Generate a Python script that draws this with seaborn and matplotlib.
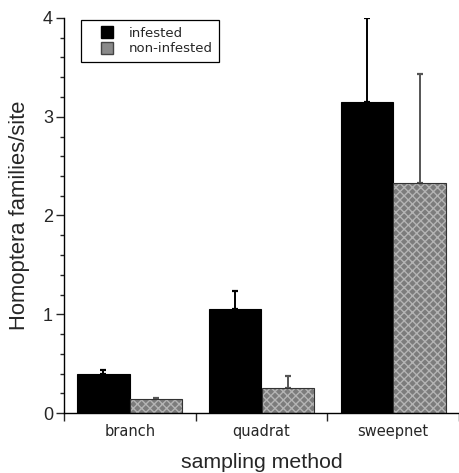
import matplotlib
matplotlib.use("Agg")
import matplotlib.pyplot as plt
import seaborn as sns
import pandas as pd
import numpy as np
from matplotlib.lines import Line2D
from matplotlib.ticker import MultipleLocator

methods = ["branch", "quadrat", "sweepnet"]
groups = ["infested", "non-infested"]
infested = [0.40, 1.05, 3.15]
infested_err = [0.04, 0.19, 0.85]
non_infested = [0.14, 0.25, 2.33]
non_infested_err = [0.01, 0.12, 1.10]

df = pd.DataFrame({
    "method": methods * 2,
    "group": [groups[0]] * 3 + [groups[1]] * 3,
    "value": infested + non_infested,
})

sns.set_style("ticks")
plt.rcParams["font.family"] = ["Liberation Sans", "DejaVu Sans"]
plt.rcParams["hatch.linewidth"] = 1.0

fig = plt.figure(figsize=(4.59, 4.73), dpi=100)
ax = fig.add_axes([64 / 459, 60 / 473, 395 / 459, 395 / 473])

black = "#000000"
grey = "#7c7c7c"
sns.barplot(data=df, x="method", y="value", hue="group", order=methods,
            hue_order=groups, palette=[black, grey], errorbar=None,
            width=0.8, edgecolor="black", linewidth=0.8, saturation=1,
            legend=False, ax=ax)

# style bars and add one-sided error bars
conts = list(ax.containers)
for i, cont in enumerate(conts):
    vals = infested if i == 0 else non_infested
    errs = infested_err if i == 0 else non_infested_err
    xs = []
    for p in cont.patches:
        xs.append(p.get_x() + p.get_width() / 2)
        p.set_zorder(2)
        if i == 1:
            p.set_hatch("xxxx")
            p.set_edgecolor("#333333")
            p._hatch_color = matplotlib.colors.to_rgba("#b4b4b4")
    ecol = "black" if i == 0 else "#555555"
    ax.errorbar(xs, vals, yerr=[np.zeros(len(vals)), errs], fmt="none",
                ecolor=ecol, elinewidth=1.4, capsize=2.5, capthick=1.6,
                zorder=1)

ax.set_xlim(-0.5, 2.5)
ax.set_ylim(0, 4)
ax.yaxis.set_major_locator(MultipleLocator(1))
ax.yaxis.set_minor_locator(MultipleLocator(0.2))
ax.set_xticks([-0.5, 0.5, 1.5, 2.5])
ax.set_xticklabels([])
ax.set_xticks([0, 1, 2], minor=True)
ax.set_xticklabels(methods, minor=True, fontsize=10.5, family="DejaVu Sans")
ax.tick_params(axis="x", which="minor", length=0, pad=8)
ax.tick_params(axis="x", which="major", length=6, width=1, direction="out")
ax.tick_params(axis="y", which="major", length=6, width=1, labelsize=13, pad=2)
ax.tick_params(axis="y", which="minor", length=3, width=1)
for t in ax.get_yticklabels():
    t.set_family("Liberation Sans")

for s in ["top", "right"]:
    ax.spines[s].set_visible(False)
for s in ["left", "bottom"]:
    ax.spines[s].set_linewidth(1.0)
    ax.spines[s].set_color("black")

ax.set_xlabel("sampling method", fontsize=15.3, labelpad=10, family="Liberation Sans")
ax.set_ylabel("Homoptera families/site", fontsize=15.8, labelpad=9, family="Liberation Sans")

handles = [
    Line2D([], [], linestyle="none", marker="s", markersize=8,
           markerfacecolor=black, markeredgecolor="black", label="infested"),
    Line2D([], [], linestyle="none", marker="s", markersize=8,
           markerfacecolor="#8a8a8a", markeredgecolor="#444444", label="non-infested"),
]
leg = ax.legend(handles=handles, loc="upper left", bbox_to_anchor=(0.043, 0.995),
                frameon=True, fancybox=False, framealpha=1, edgecolor="black",
                prop={"family": "DejaVu Sans", "size": 9.5}, handlelength=3.0,
                handletextpad=0.1, borderpad=0.5, labelspacing=0.2,
                borderaxespad=0)
leg.get_frame().set_linewidth(0.9)

fig.savefig("out.png", dpi=100)
